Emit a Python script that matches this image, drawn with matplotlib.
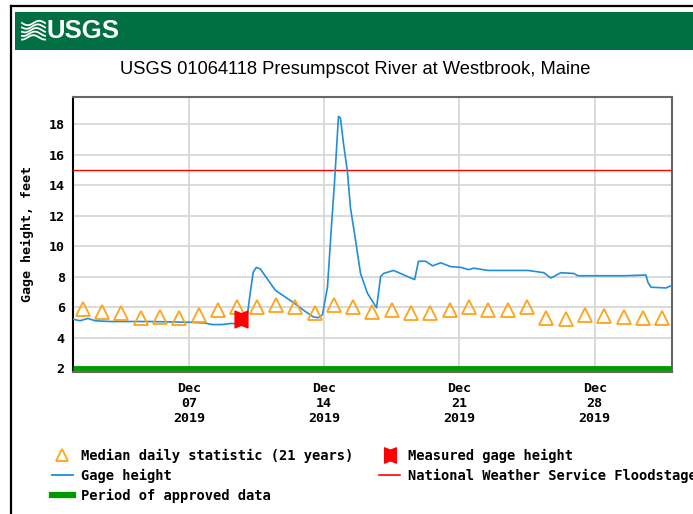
import matplotlib
matplotlib.use('Agg')
import matplotlib.pyplot as plt
import numpy as np
from matplotlib.lines import Line2D
from matplotlib.path import Path
from matplotlib.patches import Rectangle

# days since Dec 1 2019 00:00
gage_days = [0.0, 0.36, 0.78, 1.14, 1.92, 3.99, 6.07, 6.84, 7.2, 7.72, 8.14, 8.66,
             8.97, 9.18, 9.33, 9.49, 9.69, 10.47, 11.4, 11.92, 12.44, 12.7, 12.91,
             13.17, 13.37, 13.53, 13.74, 13.84, 14.0, 14.2, 14.36, 14.62, 14.88,
             15.24, 15.71, 15.92, 16.07, 16.59, 17.31, 17.68, 17.88, 18.25, 18.61,
             19.03, 19.54, 20.06, 20.48, 20.74, 21.46, 23.54, 24.37, 24.73, 25.25,
             25.92, 26.13, 28.51, 29.65, 29.76, 29.91, 30.69, 30.95, 31.0]
gage_height = [5.2, 5.1, 5.25, 5.1, 5.05, 5.05, 5.0, 4.95, 4.85, 4.85, 4.92, 4.9,
               4.95, 7.0, 8.3, 8.6, 8.5, 7.1, 6.3, 5.8, 5.35, 5.3, 5.5,
               7.3, 11.2, 14.1, 18.5, 18.4, 16.7, 14.9, 12.5, 10.4, 8.2,
               6.9, 5.95, 8.0, 8.2, 8.4, 8.0, 7.8, 9.0, 9.0, 8.7,
               8.9, 8.65, 8.6, 8.45, 8.55, 8.4, 8.4, 8.25, 7.9, 8.25,
               8.2, 8.05, 8.05, 8.1, 7.6, 7.3, 7.25, 7.4, 7.4]

median_days = np.arange(31) + 0.5
median_height = [5.9, 5.7, 5.6, 5.3, 5.35, 5.3, 5.5, 5.8, 6.0, 6.0, 6.1, 6.0, 5.6,
                 6.1, 6.0, 5.7, 5.8, 5.6, 5.6, 5.8, 6.0, 5.8, 5.8, 6.0, 5.3, 5.2,
                 5.5, 5.4, 5.35, 5.3, 5.3]

measured_day = [8.7]
measured_height = [5.2]

flood_stage = 15
approved_start, approved_end = 0, 31

tick_days = [6, 13, 20, 27]
tick_labels = ['Dec\n07\n2019', 'Dec\n14\n2019', 'Dec\n21\n2019', 'Dec\n28\n2019']
yticks = [2, 4, 6, 8, 10, 12, 14, 16, 18]

W, H = 693, 514
fig = plt.figure(figsize=(W / 100, H / 100), dpi=100)

mono = 'DejaVu Sans Mono'

# outer border and header band
fig.add_artist(Line2D([11 / W, 11 / W], [0, 1 - 6 / H], color='black', lw=1.6))
fig.add_artist(Line2D([11 / W, 1], [1 - 6 / H, 1 - 6 / H], color='black', lw=1.6))
fig.add_artist(Rectangle((15 / W, 1 - 50 / H), 1 - 15 / W, 38 / H,
                         transform=fig.transFigure, color='#006f41', lw=0))
# wave logo
wx = np.linspace(22, 45, 30)
for k in range(5):
    wy = 23 + k * 3.6 + 2.2 * np.sin((wx - 22) / 23 * 2 * np.pi + k * 0.4)
    fig.add_artist(Line2D(wx / W, 1 - wy / H, color='white', lw=1.3))
fig.text(46 / W, 1 - 31 / H, 'USGS', color='white', fontsize=18.5, fontweight='bold',
         family=['Liberation Sans Narrow', 'Liberation Sans'], ha='left', va='center')

fig.text(355 / W, 1 - 70 / H, 'USGS 01064118 Presumpscot River at Westbrook, Maine',
         fontsize=13.2, family='Liberation Sans', ha='center', va='center')

ax = fig.add_axes([73 / W, (H - 372) / H, (672 - 73) / W, (372 - 97) / H])
ax.set_xlim(0, 31)
ax.set_ylim(1.74, 19.77)

ax.set_xticks(tick_days)
ax.set_xticklabels(tick_labels)
ax.set_yticks(yticks)
ax.grid(True, color='#d4d4d4', lw=1.2, zorder=0)
ax.set_axisbelow(True)
ax.tick_params(length=0)
ax.tick_params(axis='x', pad=7.5)
ax.tick_params(axis='y', pad=6)
for lab in ax.get_xticklabels() + ax.get_yticklabels():
    lab.set_family(mono)
    lab.set_fontweight('bold')
    lab.set_fontsize(9.6)

ax.set_ylabel('Gage height, feet', family=mono, fontweight='bold', fontsize=9.6)
ax.yaxis.set_label_coords(-0.065, 0.5)

for side in ['top', 'right', 'bottom']:
    ax.spines[side].set_color('#666666')
    ax.spines[side].set_linewidth(1.5)
ax.spines['left'].set_color('black')
ax.spines['left'].set_linewidth(1.5)

ax.plot([approved_start, approved_end], [2, 2], color='#009900', lw=3.5, zorder=3,
        solid_capstyle='butt')
ax.axhline(flood_stage, color='#ff0000', lw=1, zorder=3)
ax.plot(gage_days, gage_height, color='#1f8fd6', lw=1.2, zorder=4)
ax.plot(median_days, median_height, ls='none', marker='^', ms=9.5, mfc='none',
        mec='#ffa31a', mew=1.3, zorder=5)

bowtie = Path([(-1, -1.3), (0, -0.9), (1, -1.3), (1, 1.3), (0, 0.9), (-1, 1.3), (-1, -1.3)],
              [Path.MOVETO] + [Path.LINETO] * 5 + [Path.CLOSEPOLY])
ax.plot(measured_day, measured_height, ls='none', marker=bowtie, ms=12, color='#ff0000',
        zorder=6)

handles = [
    Line2D([], [], ls='none', marker='^', ms=9, mfc='none', mec='#ffa31a', mew=1.3),
    Line2D([], [], color='#1f8fd6', lw=1.3),
    Line2D([], [], color='#009900', lw=4.5),
    Line2D([], [], ls='none', marker=bowtie, ms=11, color='#ff0000'),
    Line2D([], [], color='#ff0000', lw=1.2),
]
labels = ['Median daily statistic (21 years)', 'Gage height', 'Period of approved data',
          'Measured gage height', 'National Weather Service Floodstage']
fig.legend(handles, labels, loc='upper left', bbox_to_anchor=(52 / W, 1 - 449 / H),
           ncol=2, frameon=False, borderpad=0, borderaxespad=0,
           handlelength=1.5, handletextpad=0.6, columnspacing=1.9, labelspacing=0.42,
           prop={'family': mono, 'weight': 'bold', 'size': 9.9})

fig.savefig('out.png', dpi=100)
